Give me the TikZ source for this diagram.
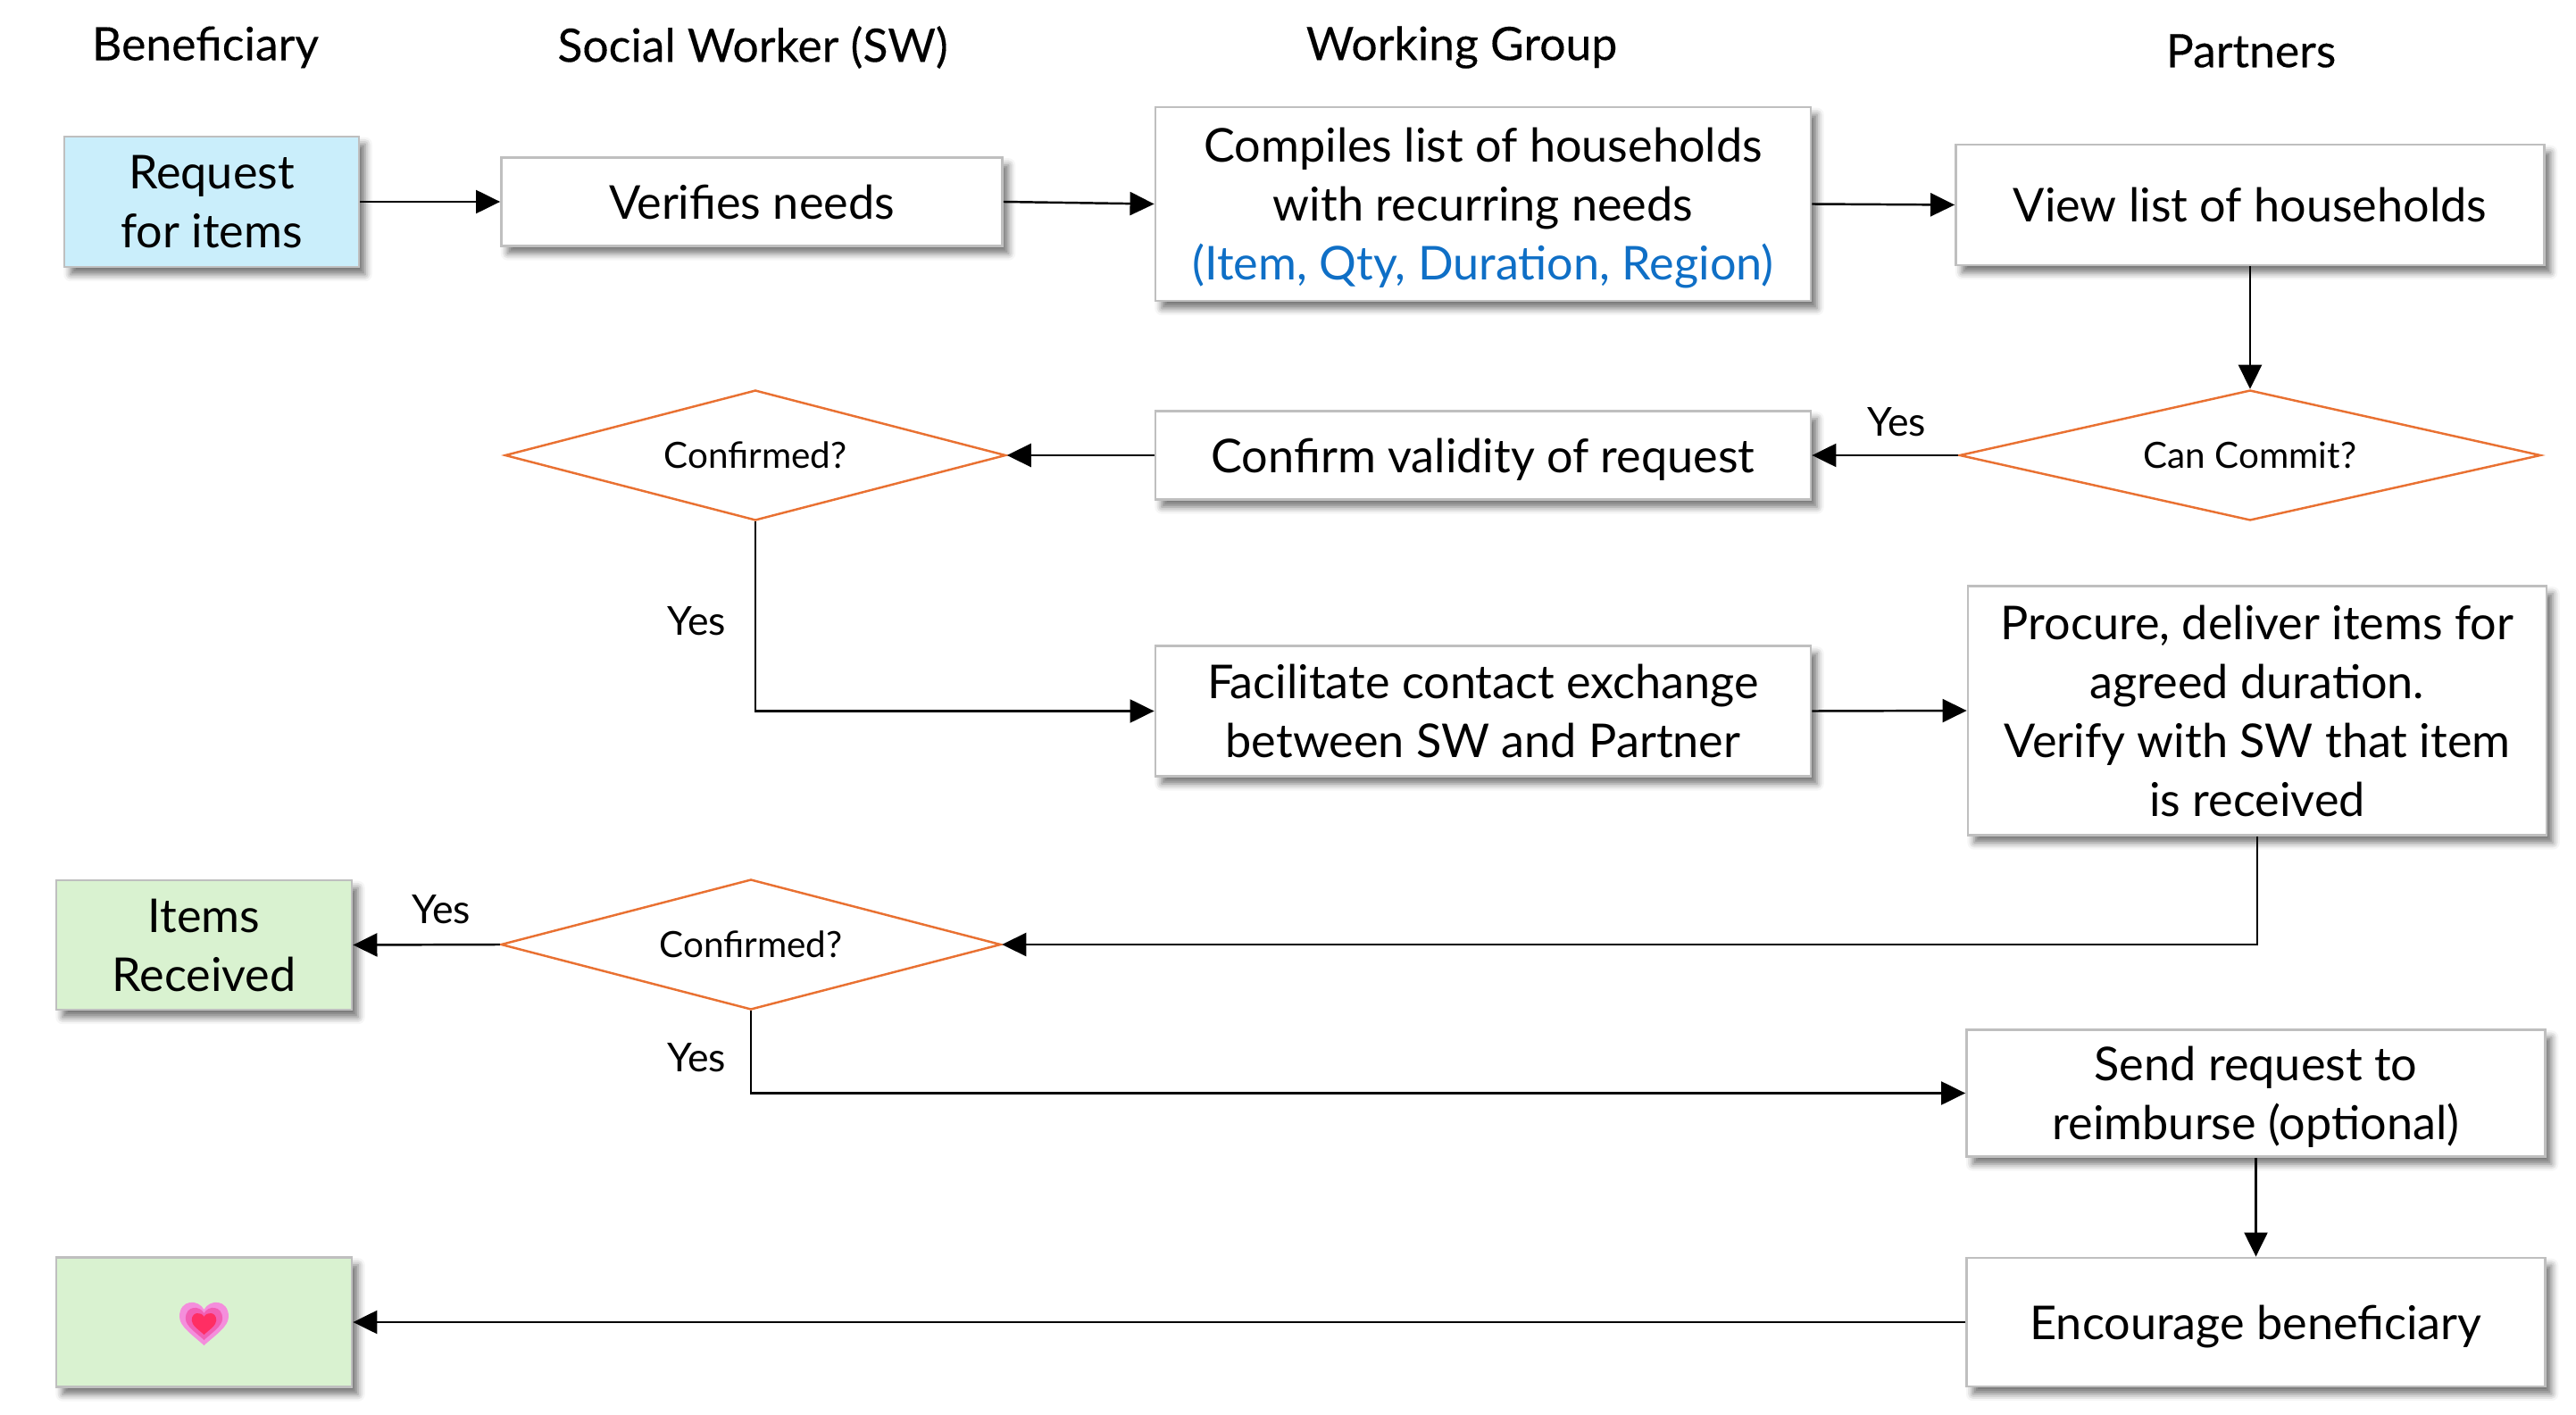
\documentclass[tikz,border=0pt]{standalone}
\usepackage{fontspec}
\setmainfont{Lato}
\usetikzlibrary{arrows.meta,shapes.geometric,shadows.blur}
\tikzset{>={Triangle[length=7.7pt,width=7.4pt]}}
\definecolor{boxline}{HTML}{BFBFBF}
\definecolor{askblue}{HTML}{CAEEFB}
\definecolor{donegreen}{HTML}{D9F2D0}
\definecolor{askorange}{HTML}{E97132}
\definecolor{itemblue}{HTML}{0F6FC6}
\tikzset{
	stepbox/.style={rectangle, draw=boxline, line width=0.8pt, fill=white, align=center, inner sep=0pt, text depth=0pt,
		font=\fontsize{14.85}{18.8}\selectfont,
		blur shadow={shadow xshift=2pt, shadow yshift=-2.4pt, shadow blur radius=2.2pt, shadow opacity=55}},
	askbox/.style={diamond, draw=askorange, line width=0.7pt, fill=white, inner sep=0pt, font=\fontsize{11.5}{13}\selectfont},
	headtext/.style={font=\fontsize{14.7}{18}\selectfont\addfontfeatures{FakeBold=0.2}},
	yestext/.style={font=\fontsize{12.7}{15}\selectfont},
	flow/.style={->, line width=0.7pt}
}

\begin{document}
\begin{tikzpicture}[y=-1cm]
	\useasboundingbox (0,0) rectangle (28.85,15.85);

	\node[headtext] (beneficiary) at (2.30,0.53) {Beneficiary};
	\node[headtext] (socialworker) at (8.43,0.53) {Social Worker (SW)};
	\node[headtext] (workinggroup) at (16.37,0.53) {Working Group};
	\node[headtext] (partners) at (25.21,0.57) {Partners};

	\node[stepbox, fill=askblue, minimum width=3.30cm, minimum height=1.46cm] (request) at (2.37,2.26) {Request\\for items};
	\node[stepbox, minimum width=5.61cm, minimum height=0.99cm] (verifies) at (8.42,2.26) {Verifies needs};
	\node[stepbox, minimum width=7.34cm, minimum height=2.17cm] (compiles) at (16.61,2.285) {Compiles list of households\\with recurring needs\\\textcolor{itemblue}{(Item, Qty, Duration, Region)}};
	\node[stepbox, minimum width=6.59cm, minimum height=1.35cm] (view) at (25.20,2.295) {View list of households};
	\draw [flow] (request.east) -- (verifies.west);
	\draw [flow] (verifies.east) -- (compiles.west);
	\draw [flow] (compiles.east) -- (view.west);

	\node[askbox, aspect=4.46, minimum width=6.51cm, minimum height=1.46cm] (commit) at (25.20,5.10) {Can Commit?};
	\node[stepbox, minimum width=7.34cm, minimum height=0.99cm] (validity) at (16.61,5.10) {Confirm validity of request};
	\node[askbox, aspect=3.84, minimum width=5.61cm, minimum height=1.46cm] (confirmedsw) at (8.46,5.10) {Confirmed?};
	\draw [flow] (view.south) -- (commit.north);
	\draw [flow] (commit.west) -- (validity.east);
	\draw [flow] (validity.west) -- (confirmedsw.east);
	\node[yestext] (yescommit) at (21.24,4.73) {Yes};

	\node[stepbox, minimum width=7.34cm, minimum height=1.46cm] (contact) at (16.61,7.965) {Facilitate contact exchange\\between SW and Partner};
	\node[stepbox, minimum width=6.48cm, minimum height=2.79cm] (procure) at (25.28,7.96) {Procure, deliver items for\\agreed duration.\\Verify with SW that item\\is received};
	\draw [flow] (confirmedsw.south) |- (contact.west);
	\draw [flow] (contact.east) -- (procure.west);
	\node[yestext] (yesconfirmed) at (7.80,6.96) {Yes};

	\node[stepbox, fill=donegreen, minimum width=3.31cm, minimum height=1.45cm] (received) at (2.285,10.585) {Items\\Received};
	\node[askbox, aspect=3.84, minimum width=5.60cm, minimum height=1.46cm] (confirmedpartner) at (8.41,10.58) {Confirmed?};
	\draw [flow] (procure.south) |- (confirmedpartner.east);
	\draw [flow] (confirmedpartner.west) -- (received.east);
	\node[yestext] (yesreceived) at (4.94,10.19) {Yes};
	\node[yestext] (yesreimburse) at (7.80,11.85) {Yes};

	\node[stepbox, minimum width=6.48cm, minimum height=1.42cm] (reimburse) at (25.265,12.245) {Send request to\\reimburse (optional)};
	\node[stepbox, minimum width=6.48cm, minimum height=1.44cm] (encourage) at (25.265,14.81) {Encourage beneficiary};
	\node[stepbox, fill=donegreen, minimum width=3.31cm, minimum height=1.45cm] (thanks) at (2.285,14.81) {};
	\draw [flow] (confirmedpartner.south) |- (reimburse.west);
	\draw [flow] (reimburse.south) -- (encourage.north);
	\draw [flow] (encourage.west) -- (thanks.east);

	% heart inside the last box
	\foreach \sz/\col in {1/F48EDC,0.75/F25FB4,0.5/FF2E63} {
		\definecolor{heartfill}{HTML}{\col}
		\fill[heartfill, shift={(thanks.center)}, shift={(0,0.02)}, scale=\sz]
			(0,0.24) .. controls (-0.12,0.13) and (-0.275,0.03) .. (-0.275,-0.08)
			.. controls (-0.275,-0.28) and (-0.06,-0.28) .. (0,-0.16)
			.. controls (0.06,-0.28) and (0.275,-0.28) .. (0.275,-0.08)
			.. controls (0.275,0.03) and (0.12,0.13) .. (0,0.24) -- cycle;
	}
\end{tikzpicture}
\end{document}
